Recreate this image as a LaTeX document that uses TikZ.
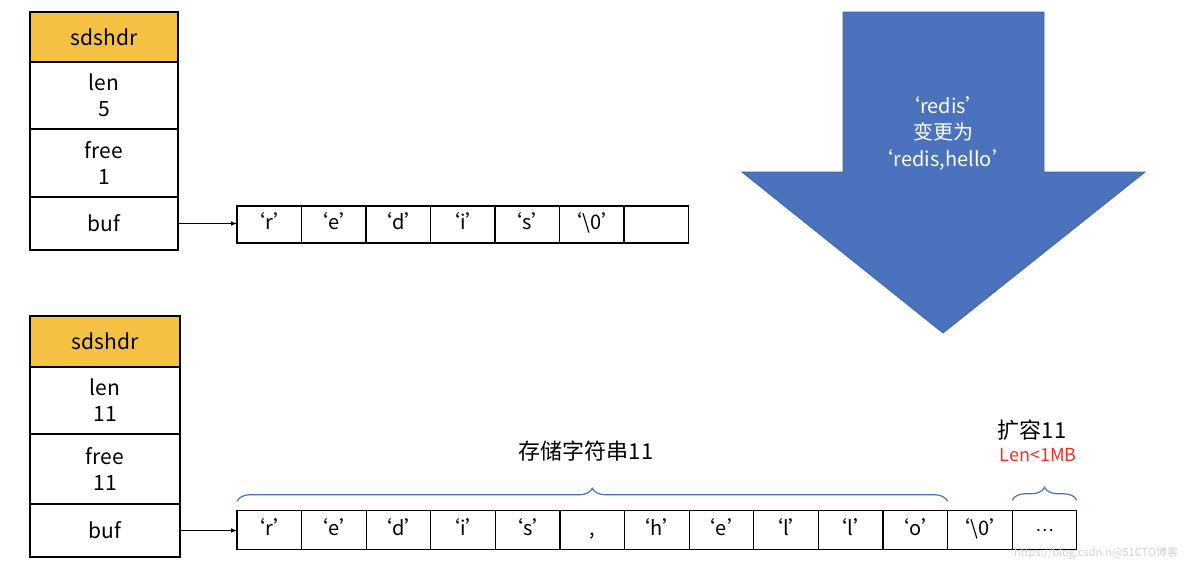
\documentclass[tikz,border=0pt]{standalone}
\usepackage{fontspec}
\setmainfont{Noto Sans CJK SC}
\usetikzlibrary{decorations.pathreplacing}
\definecolor{hdr}{RGB}{245,193,66}
\definecolor{arrowblue}{RGB}{74,114,189}
\definecolor{arrowedge}{RGB}{62,98,168}
\definecolor{braceblue}{RGB}{68,114,196}
\definecolor{redtxt}{RGB}{238,49,36}
\begin{document}
\begin{tikzpicture}[x=1pt,y=-1pt,
  fld/.style={draw=black,line width=1.3pt,inner sep=0pt,outer sep=0pt,align=center,font=\fontsize{21}{26}\selectfont},
  hdrbox/.style={fld,fill=hdr},
  cell/.style={draw=black,line width=1.3pt,inner sep=0pt,outer sep=0pt,minimum width=64.6pt,text height=14pt,text depth=4pt,font=\fontsize{20}{22}\selectfont},
  ptr/.style={-latex,line width=1pt},
  bracestyle/.style={draw=braceblue,line width=1.2pt,decorate,decoration={brace,amplitude=13pt}},
  lbl/.style={inner sep=0pt,font=\fontsize{22}{26}\selectfont}]
\useasboundingbox (0,0) rectangle (1184,566);
% top struct
\node[hdrbox,minimum width=148pt,minimum height=50pt] (h1) at (104,37) {sdshdr};
\node[fld,minimum width=148pt,minimum height=67pt] (l1) at (104,95.5) {len\\5};
\node[fld,minimum width=148pt,minimum height=68pt] (f1) at (104,163) {free\\1};
\node[fld,minimum width=148pt,minimum height=53pt] (b1) at (104,223.5) {buf};
% top array
\foreach \t [count=\i] in {‘r’,‘e’,‘d’,‘i’,‘s’,‘\textbackslash0’,{}} {
  \node[cell,minimum height=37pt] (c\i) at ({237+64.5*(\i-0.5)},224.5) {\t};
}
\draw[ptr] (b1.east) -- (b1.east -| c1.west);
% bottom struct
\node[hdrbox,minimum width=150pt,minimum height=51pt] (h2) at (105,341.5) {sdshdr};
\node[fld,minimum width=150pt,minimum height=67pt] (l2) at (105,400.5) {len\\11};
\node[fld,minimum width=150pt,minimum height=70pt] (f2) at (105,469) {free\\11};
\node[fld,minimum width=150pt,minimum height=53pt] (b2) at (105,530.5) {buf};
% bottom array
\foreach \t [count=\i] in {‘r’,‘e’,‘d’,‘i’,‘s’,{,},‘h’,‘e’,‘l’,‘l’,‘o’,‘\textbackslash0’,{\raisebox{4pt}{\fontsize{17}{20}\selectfont …}}} {
  \node[cell,minimum height=39.5pt] (d\i) at ({237+64.6*(\i-0.5)},530) {\t};
}
\draw[ptr] (b2.east) -- (b2.east -| d1.west);
% braces
\coordinate (s1) at ([yshift=9pt]d1.north west);
\coordinate (e1) at ([yshift=9pt]d11.north east);
\coordinate (s2) at ([yshift=10pt]d13.north west);
\coordinate (e2) at ([yshift=10pt]d13.north east);
\draw[bracestyle] (s1) -- (e1);
\draw[bracestyle] (s2) -- (e2);
\node[lbl] (t1) at (586,451) {存储字符串11};
\node[lbl] (t2) at (1032,430) {扩容11};
\node[inner sep=0pt,text=redtxt,font=\fontsize{18}{20}\selectfont] (t3) at (1038,455) {Len<1MB};
% big arrow
\draw[fill=arrowblue,draw=arrowedge,line width=0.8pt]
  (843,12) -- (1044,12) -- (1044,172) -- (1145,172) -- (943,333) -- (742,172) -- (843,172) -- cycle;
\node[text=white,align=center,font=\fontsize{20}{26.5}\selectfont] (at) at (943,133) {‘redis’\\变更为\\‘redis,hello’};
% watermark
\node[text=black!18,inner sep=0pt,font=\fontsize{11}{12}\selectfont] (wm) at (1096,553) {https://blog.csdn.n@51CTO博客};
\end{tikzpicture}
\end{document}
